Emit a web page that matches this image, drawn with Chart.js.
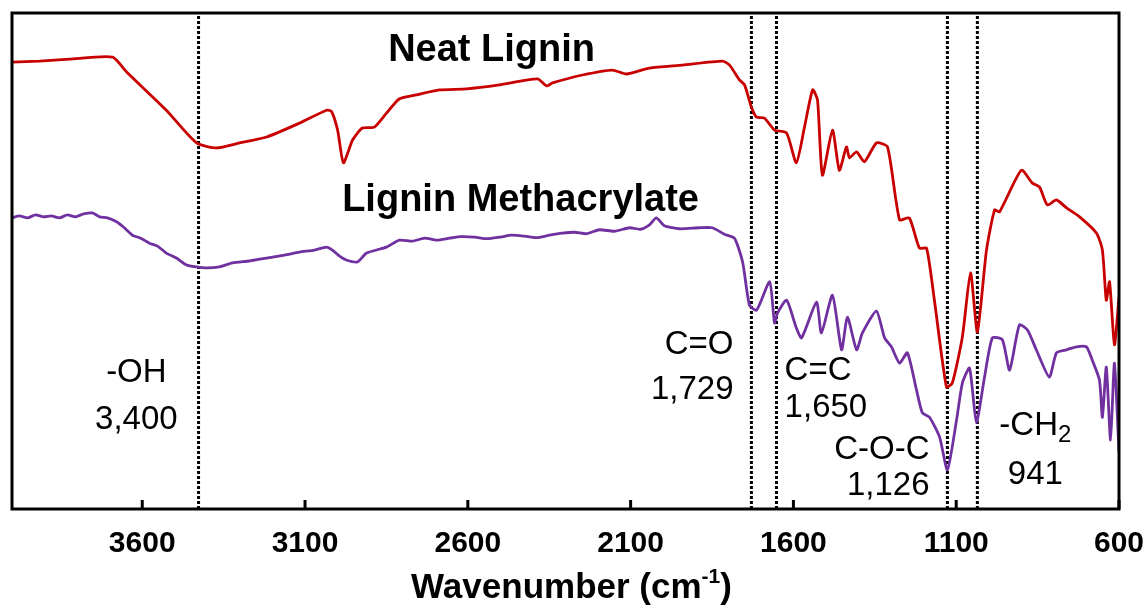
<!DOCTYPE html>
<html>
<head>
<meta charset="utf-8">
<script src="https://cdn.jsdelivr.net/npm/chart.js@4.4.1/dist/chart.umd.min.js"></script>
<style>
  html, body { margin: 0; padding: 0; background: #fff; }
  canvas { display: block; }
</style>
</head>
<body>
<canvas id="ftirChart" width="1147" height="607"></canvas>
<script>
// Espectros FTIR (transmitancia relativa)
const neatWn = [4000, 3916, 3823, 3691, 3648, 3526, 3433, 3372, 3301, 3218, 3117, 3034, 3019, 3000, 2982, 2954, 2924, 2887, 2850, 2810,
    2758, 2687, 2604, 2503, 2386, 2358, 2340, 2248, 2156, 2113, 2042, 1941, 1818, 1796, 1766, 1750, 1729, 1713, 1689, 1658,
    1621, 1591, 1566, 1541, 1526, 1511, 1480, 1459, 1437, 1428, 1406, 1382, 1345, 1311, 1274, 1244, 1213, 1191, 1167, 1130,
    1112, 1081, 1056, 1035, 1007, 982, 967, 900, 866, 844, 820, 792, 761, 721, 669, 651, 639, 629, 614, 600];
const neatT = [90.1, 90.3, 90.7, 91.1, 88.1, 80.4, 73.8, 72.8, 73.8, 75.0, 77.8, 80.4, 80.2, 76.4, 69.8, 74.4, 76.8, 77.0, 79.8, 82.7,
    83.5, 84.5, 84.7, 85.5, 86.7, 85.3, 85.9, 87.5, 88.5, 87.7, 88.9, 89.5, 90.3, 89.5, 86.5, 85.5, 81.0, 79.0, 78.8, 76.4,
    75.8, 69.8, 77.0, 84.5, 82.5, 67.3, 76.4, 68.3, 73.0, 70.8, 72.0, 70.0, 73.8, 73.0, 58.3, 58.7, 52.6, 52.6, 42.1, 24.6,
    25.4, 34.7, 47.6, 35.7, 52.2, 60.3, 59.9, 68.3, 65.7, 64.9, 61.3, 62.3, 60.7, 58.9, 55.6, 52.2, 42.1, 45.8, 33.1, 42.7];

const methWn = [4000, 3977, 3952, 3928, 3903, 3879, 3854, 3830, 3805, 3780, 3753, 3731, 3707, 3679, 3655, 3630, 3605, 3578, 3553, 3526,
    3495, 3464, 3433, 3403, 3363, 3323, 3271, 3218, 3163, 3117, 3071, 3034, 3016, 2994, 2973, 2939, 2911, 2850, 2810, 2770,
    2733, 2695, 2656, 2620, 2579, 2540, 2503, 2465, 2426, 2390, 2349, 2310, 2272, 2235, 2196, 2150, 2103, 2070, 2042, 2021,
    1996, 1950, 1889, 1849, 1812, 1781, 1756, 1735, 1713, 1673, 1658, 1649, 1621, 1591, 1575, 1529, 1514, 1480, 1452, 1434,
    1406, 1388, 1345, 1320, 1299, 1274, 1250, 1222, 1204, 1182, 1151, 1127, 1099, 1081, 1059, 1038, 1013, 989, 958, 936,
    906, 881, 854, 814, 792, 761, 731, 700, 682, 660, 651, 639, 626, 614, 600];
const methT = [58.7, 59.1, 58.7, 59.3, 58.9, 59.1, 58.7, 59.3, 58.9, 59.5, 59.7, 58.9, 58.7, 57.9, 56.7, 55.2, 54.6, 53.6, 53.0, 51.6,
    50.6, 49.2, 48.8, 48.6, 48.8, 49.6, 50.0, 50.6, 51.2, 51.8, 52.2, 52.8, 52.2, 51.0, 50.2, 49.8, 51.6, 52.8, 54.2, 54.0,
    54.6, 54.2, 54.6, 54.9, 54.8, 54.5, 54.8, 55.2, 55.0, 54.7, 55.2, 55.6, 55.8, 55.5, 56.3, 56.0, 56.7, 56.4, 57.3, 58.7,
    57.1, 56.5, 56.7, 56.7, 55.4, 54.6, 49.8, 41.1, 40.1, 45.8, 37.5, 39.5, 42.1, 36.5, 34.5, 41.7, 35.5, 43.1, 32.1, 38.7,
    32.1, 35.5, 39.9, 34.5, 32.7, 29.4, 31.5, 24.0, 19.4, 18.5, 14.5, 7.9, 17.9, 25.4, 28.4, 17.5, 26.6, 34.5, 34.1, 28.0,
    37.1, 36.1, 32.1, 26.6, 31.5, 32.1, 32.7, 32.7, 30.0, 26.0, 18.5, 28.6, 13.9, 29.4, 11.5];

// Eje X (cm-1) y lineas punteadas de referencia
const tickValues = [3600, 3100, 2600, 2100, 1600, 1100, 600];
const markerWn = [3427, 1729, 1652, 1127, 1035];

// Anotaciones de bandas
const noteText = [['-OH', '3,400'], ['C=O', '1,729'], ['C=C', '1,650'], ['C-O-C', '1,126'], ['-CH_2', '941']];
const noteX = [3618, 1784, 1627, 1182, 857];
const noteAlign = ['center', 'right', 'left', 'right', 'center'];
const noteY1 = [28.0, 33.7, 28.4, 12.5, 17.3];
const noteY2 = [18.5, 24.6, 21.0, 5.2, 7.5];

// Nombres de las series
const seriesNames = ['Neat Lignin', 'Lignin Methacrylate'];
const nameX = [2527, 2438];
const nameY = [93.1, 62.9];

const FONT = "'Liberation Sans', Arial, Helvetica, sans-serif";

function toPoints(xs, ys) {
    return xs.map((x, i) => ({ x: x, y: ys[i] }));
}

// Texto con subindice opcional ("-CH_2")
function drawText(ctx, text, x, y, align, size) {
    const parts = text.split('_');
    const subSize = Math.round(size * 0.74);
    ctx.font = size + 'px ' + FONT;
    const wMain = ctx.measureText(parts[0]).width;
    let wSub = 0;
    if (parts[1]) {
        ctx.font = subSize + 'px ' + FONT;
        wSub = ctx.measureText(parts[1]).width;
    }
    const total = wMain + wSub;
    let left = x;
    if (align === 'center') left = x - total / 2;
    if (align === 'right') left = x - total;
    ctx.textAlign = 'left';
    ctx.textBaseline = 'alphabetic';
    ctx.font = size + 'px ' + FONT;
    ctx.fillText(parts[0], left, y);
    if (parts[1]) {
        ctx.font = subSize + 'px ' + FONT;
        ctx.fillText(parts[1], left + wMain, y + size * 0.22);
    }
}

const decorPlugin = {
    id: 'decor',
    afterDraw(chart) {
        const { ctx, chartArea: a, scales: { x, y } } = chart;
        ctx.save();
        ctx.strokeStyle = '#000';
        ctx.fillStyle = '#000';
        ctx.lineWidth = 3;

        // marcas del eje hacia adentro
        tickValues.forEach(v => {
            const px = x.getPixelForValue(v);
            ctx.beginPath();
            ctx.moveTo(px, a.bottom);
            ctx.lineTo(px, a.bottom - 9);
            ctx.stroke();
        });

        // marco
        ctx.strokeRect(a.left, a.top, a.right - a.left, a.bottom - a.top);

        // nombres de series
        ctx.font = 'bold 38px ' + FONT;
        ctx.textAlign = 'center';
        ctx.textBaseline = 'alphabetic';
        seriesNames.forEach((name, i) => {
            ctx.fillText(name, x.getPixelForValue(nameX[i]), y.getPixelForValue(nameY[i]) + 38 * 0.358);
        });

        // anotaciones
        noteText.forEach((lines, i) => {
            const px = x.getPixelForValue(noteX[i]);
            drawText(ctx, lines[0], px, y.getPixelForValue(noteY1[i]) + 33 * 0.358, noteAlign[i], 33);
            drawText(ctx, lines[1], px, y.getPixelForValue(noteY2[i]) + 33 * 0.358, noteAlign[i], 33);
        });

        // titulo del eje X con superindice
        const cx = (a.left + a.right) / 2 + 6;
        const base = a.bottom + 89;
        ctx.font = 'bold 35px ' + FONT;
        const t1 = 'Wavenumber (cm';
        const w1 = ctx.measureText(t1).width;
        ctx.font = 'bold 21px ' + FONT;
        const w2 = ctx.measureText('-1').width;
        ctx.font = 'bold 35px ' + FONT;
        const w3 = ctx.measureText(')').width;
        let left = cx - (w1 + w2 + w3) / 2;
        ctx.textAlign = 'left';
        ctx.fillText(t1, left, base);
        ctx.font = 'bold 21px ' + FONT;
        ctx.fillText('-1', left + w1, base - 15);
        ctx.font = 'bold 35px ' + FONT;
        ctx.fillText(')', left + w1 + w2, base);
        ctx.restore();
    }
};

const markerSets = markerWn.map(w => ({
    data: [{ x: w, y: 0 }, { x: w, y: 100 }],
    borderColor: '#000',
    borderWidth: 3,
    borderDash: [3, 2],
    pointRadius: 0,
    tension: 0
}));

new Chart(document.getElementById('ftirChart'), {
    type: 'line',
    data: {
        datasets: [
            {
                label: 'Neat Lignin',
                data: toPoints(neatWn, neatT),
                borderColor: '#C80000',
                borderWidth: 2.8,
                pointRadius: 0,
                tension: 0.2
            },
            {
                label: 'Lignin Methacrylate',
                data: toPoints(methWn, methT),
                borderColor: '#7030A0',
                borderWidth: 2.8,
                pointRadius: 0,
                tension: 0.2
            },
            ...markerSets
        ]
    },
    options: {
        responsive: false,
        devicePixelRatio: 1,
        animation: false,
        layout: { padding: { left: 12, right: 28, top: 13, bottom: 0 } },
        plugins: {
            legend: { display: false },
            tooltip: { enabled: false }
        },
        scales: {
            x: {
                type: 'linear',
                reverse: true,
                min: 600,
                max: 4000,
                grid: { display: false, drawTicks: false },
                border: { display: false },
                afterBuildTicks: scale => {
                    scale.ticks = tickValues.map(v => ({ value: v }));
                },
                afterFit: scale => {
                    scale.height = 98;
                    scale.paddingLeft = 0;
                    scale.paddingRight = 0;
                },
                ticks: {
                    autoSkip: false,
                    maxRotation: 0,
                    padding: 17,
                    color: '#000',
                    font: { family: FONT, size: 30, weight: 'bold' },
                    callback: v => String(v)
                }
            },
            y: {
                display: false,
                min: 0,
                max: 100
            }
        }
    },
    plugins: [decorPlugin]
});
</script>
</body>
</html>
